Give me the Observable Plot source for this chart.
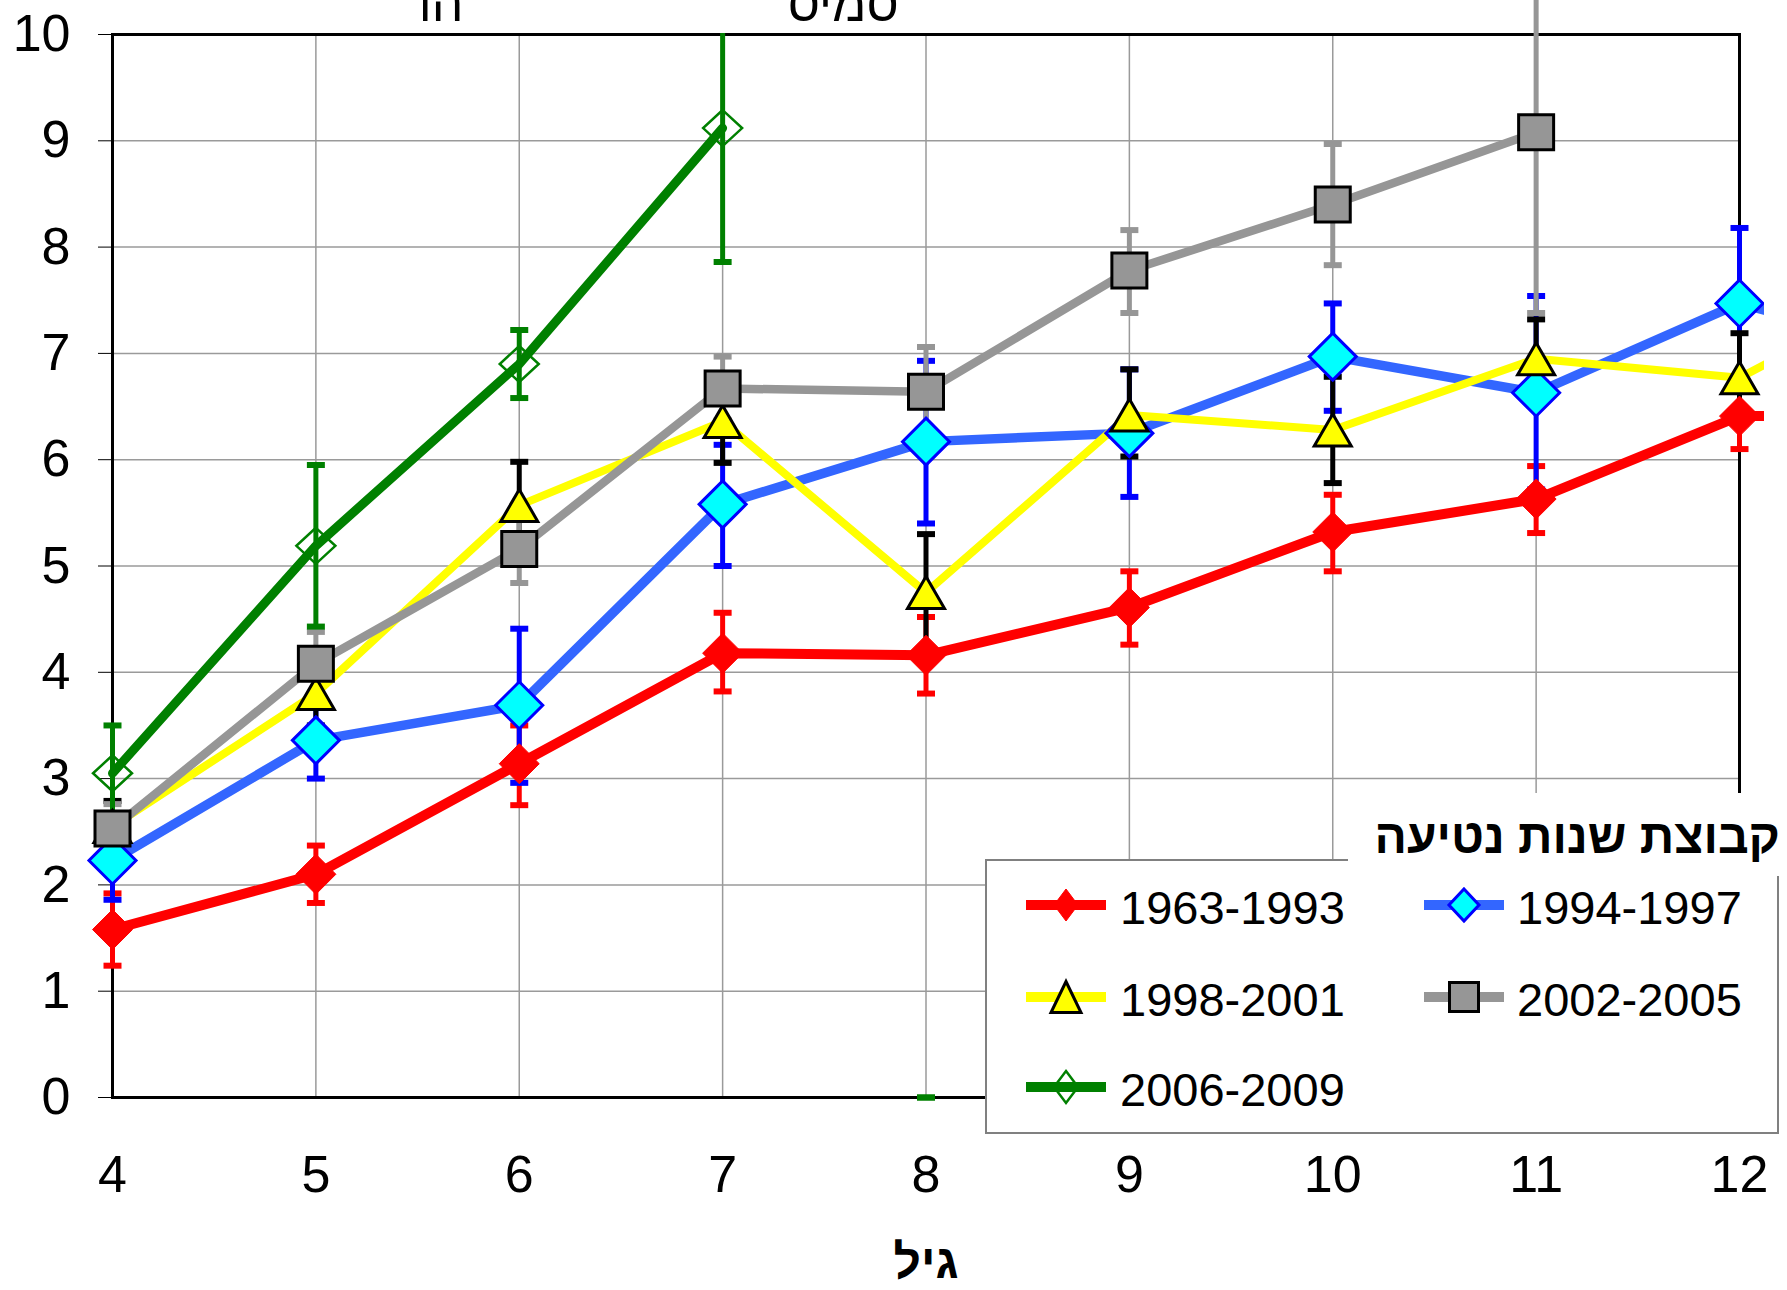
<!DOCTYPE html>
<html><head><meta charset="utf-8">
<script src="https://cdn.jsdelivr.net/npm/d3@7"></script>
<script src="https://cdn.jsdelivr.net/npm/@observablehq/plot@0.6"></script>
<style>
html,body{margin:0;padding:0;background:#fff;overflow:hidden;width:1787px;height:1290px;}
#page{position:relative;width:1787px;height:1290px;font-family:"Liberation Sans",Arial,sans-serif;color:#000;}
#chart{position:absolute;left:0;top:0;width:1787px;height:1290px;overflow:hidden;}
.tbox{position:absolute;background:#fff;overflow:hidden;}
.tbox span{position:absolute;white-space:nowrap;line-height:1;direction:rtl;}
#legend{position:absolute;left:985px;top:859px;width:794px;height:275px;box-sizing:border-box;border:2px solid #808080;background:#fff;}
#legend .sym{position:absolute;width:80px;height:40px;}
#legend .lab{position:absolute;font-size:47px;line-height:1;white-space:nowrap;}
</style></head><body>
<div id="page">
  <div id="chart"></div>
  <div id="legend"></div>
</div>
<script>
// ---------- data ----------
const ages = [4, 5, 6, 7, 8, 9, 10, 11, 12, 13];
const xTicks = [4, 5, 6, 7, 8, 9, 10, 11, 12];
const yTicks = [0, 1, 2, 3, 4, 5, 6, 7, 8, 9, 10];
const seriesNames = ["1963-1993", "1994-1997", "1998-2001", "2002-2005", "2006-2009"];

const mean1963 = [1.58, 2.10, 3.14, 4.18, 4.16, 4.61, 5.32, 5.63, 6.41, 6.42];
const low1963  = [1.24, 1.83, 2.75, 3.82, 3.80, 4.26, 4.95, 5.31, 6.10, null];
const high1963 = [1.92, 2.37, 3.50, 4.56, 4.52, 4.95, 5.67, 5.94, 6.72, null];

const mean1994 = [2.23, 3.36, 3.69, 5.58, 6.17, 6.25, 6.97, 6.63, 7.47, 6.96];
const low1994  = [1.86, 3.00, 2.96, 5.00, 5.40, 5.65, 6.46, 5.72, 6.76, null];
const high1994 = [2.60, 3.72, 4.41, 6.14, 6.93, 6.85, 7.47, 7.54, 8.18, null];

const mean1998 = [2.55, 3.80, 5.57, 6.36, 4.75, 6.42, 6.28, 6.95, 6.77, 7.78];
const low1998  = [2.30, 3.50, 5.16, 5.97, 4.20, 6.03, 5.78, 6.58, 6.34, null];
const high1998 = [2.79, 4.10, 5.98, 6.75, 5.30, 6.85, 6.78, 7.32, 7.19, null];

const mean2002 = [2.53, 4.08, 5.16, 6.67, 6.64, 7.78, 8.40, 9.08, null, null];
const low2002  = [2.30, 3.78, 4.84, 6.37, 6.22, 7.38, 7.83, 7.38, null, null];
const high2002 = [2.76, 4.38, 5.48, 6.97, 7.06, 8.16, 8.97, 10.78, null, null];

const mean2006 = [3.05, 5.19, 6.90, 9.12, null, null, null, null, null, null];
const low2006  = [2.60, 4.43, 6.58, 7.86, 0, null, null, null, null, null];
const high2006 = [3.50, 5.95, 7.22, 10.38, 0, null, null, null, null, null];

const xAxisTitle = "גיל";
const legendTitle = "קבוצת שנות נטיעה";
const topFragments = ["הו", "סמיס"];

// ---------- build table ----------
const means = [mean1963, mean1994, mean1998, mean2002, mean2006];
const lows = [low1963, low1994, low1998, low2002, low2006];
const highs = [high1963, high1994, high1998, high2002, high2006];
const rows = [];
seriesNames.forEach((name, i) => {
  ages.forEach((age, j) => {
    rows.push({series: name, idx: i, age, value: means[i][j], lo: lows[i][j], hi: highs[i][j]});
  });
});

// ---------- symbols ----------
const diamond = (w, h) => ({draw(c) { c.moveTo(0, -h / 2); c.lineTo(w / 2, 0); c.lineTo(0, h / 2); c.lineTo(-w / 2, 0); c.closePath(); }});
const triangle = (w, h) => ({draw(c) { c.moveTo(0, -h / 2); c.lineTo(w / 2, h / 2); c.lineTo(-w / 2, h / 2); c.closePath(); }});
const square = (s) => ({draw(c) { c.moveTo(-s / 2, -s / 2); c.lineTo(s / 2, -s / 2); c.lineTo(s / 2, s / 2); c.lineTo(-s / 2, s / 2); c.closePath(); }});
const rect = (w, h) => ({draw(c) { c.moveTo(-w / 2, -h / 2); c.lineTo(w / 2, -h / 2); c.lineTo(w / 2, h / 2); c.lineTo(-w / 2, h / 2); c.closePath(); }});
const capSym = rect(18, 6);

const looks = [
  {line: "#FF0000", lw: 10,  err: "#FF0000", sym: diamond(40, 40), fill: "#FF0000", stroke: "#FF0000", sw: 1,   lsym: diamond(24, 32)},
  {line: "#3366FF", lw: 9.5, err: "#0000FF", sym: diamond(47, 47), fill: "#00FFFF", stroke: "#0000FF", sw: 3,   lsym: diamond(30, 32)},
  {line: "#FFFF00", lw: 8,   err: "#000000", sym: triangle(37, 32), fill: "#FFFF00", stroke: "#000000", sw: 3, lsym: triangle(30, 31)},
  {line: "#969696", lw: 8.5, err: "#969696", sym: square(35),      fill: "#969696", stroke: "#000000", sw: 3,   lsym: square(29)},
  {line: "#008000", lw: 9,   err: "#008000", sym: diamond(39, 36), fill: "none",    stroke: "#008000", sw: 2.5, lsym: diamond(24, 32)}
];

const lineMarks = [], errMarks = [], dotMarks = [];
seriesNames.forEach((name, i) => {
  const L = looks[i];
  const sRows = rows.filter(d => d.idx === i);
  lineMarks.push(Plot.line(sRows, {x: "age", y: "value", stroke: L.line, strokeWidth: L.lw, strokeLinejoin: "round"}));
  const eRows = sRows.filter(d => d.lo != null && d.hi != null);
  errMarks.push(Plot.ruleX(eRows, {x: "age", y1: "lo", y2: "hi", stroke: L.err, strokeWidth: 5}));
  const capRows = eRows.flatMap(d => [{age: d.age, v: d.lo}, {age: d.age, v: d.hi}]);
  errMarks.push(Plot.dot(capRows, {x: "age", y: "v", symbol: capSym, fill: L.err, stroke: "none"}));
  dotMarks.push(Plot.dot(sRows.filter(d => d.value != null), {x: "age", y: "value", symbol: L.sym, fill: L.fill, stroke: L.stroke, strokeWidth: L.sw}));
});

const plot = Plot.plot({
  width: 1787, height: 1290,
  marginLeft: 112, marginRight: 48, marginTop: 34, marginBottom: 193,
  style: {fontFamily: "Liberation Sans, Arial, sans-serif", fontSize: "52px", background: "white", color: "black", overflow: "hidden"},
  x: {domain: [4, 12], ticks: xTicks, tickSize: 0, tickPadding: 58, label: null},
  y: {domain: [0, 10], ticks: yTicks, tickSize: 14, tickPadding: 28, label: null},
  marks: [
    Plot.ruleX(xTicks, {stroke: "#9a9a9a", strokeWidth: 1.5}),
    Plot.ruleY(yTicks, {stroke: "#9a9a9a", strokeWidth: 1.5}),
    Plot.frame({stroke: "black", strokeWidth: 3}),
    ...lineMarks,
    ...errMarks,
    ...dotMarks,
    Plot.text([xAxisTitle], {text: d => d, frameAnchor: "bottom", dy: 180, lineAnchor: "bottom", fontSize: 48, fontWeight: "bold"})
  ]
});
document.getElementById("chart").appendChild(plot);

const page = d3.select("#page");
// white strip: plot area ends just right of age 12 (lines are cut there)
page.append("div").attr("class", "tbox")
  .style("left", "1764px").style("top", "0px").style("width", "23px").style("height", "859px");

// ---------- top title fragments (partially cropped, as in the source) ----------
const fragBoxes = [{l: 379, w: 111, cx: 441}, {l: 698, w: 290, cx: 843}];
topFragments.forEach((t, i) => {
  const b = fragBoxes[i];
  const box = page.append("div").attr("class", "tbox")
    .style("left", b.l + "px").style("top", "0px").style("width", b.w + "px").style("height", "33px");
  box.append("span").text(t).style("font-size", "50px")
    .style("left", (b.cx - b.l) + "px").style("top", "-21px").style("transform", "translateX(-50%)");
});

// ---------- legend title ----------
const ltBox = page.append("div").attr("class", "tbox")
  .style("left", "1348px").style("top", "793px").style("width", "439px").style("height", "83px");
ltBox.append("span").text(legendTitle).style("font-size", "48px").style("font-weight", "bold")
  .style("right", "7px").style("top", "20px");

// ---------- legend entries ----------
const legend = d3.select("#legend");
const colSym = [39, 437], colText = [133, 530], rowC = [44, 136, 226];
seriesNames.forEach((name, i) => {
  const L = looks[i];
  const col = i % 2, row = Math.floor(i / 2);
  const svg = legend.append("svg").attr("class", "sym").attr("width", 80).attr("height", 40)
    .style("left", colSym[col] + "px").style("top", (rowC[row] - 20) + "px").style("overflow", "visible");
  svg.append("line").attr("x1", 0).attr("x2", 80).attr("y1", 20).attr("y2", 20)
    .attr("stroke", L.line).attr("stroke-width", 10);
  svg.append("path").attr("transform", "translate(40,20)")
    .attr("d", d3.symbol(L.lsym)())
    .attr("fill", L.fill === "none" ? "none" : L.fill).attr("stroke", L.stroke).attr("stroke-width", L.sw);
  legend.append("div").attr("class", "lab").text(name)
    .style("left", colText[col] + "px").style("top", (rowC[row] - 21) + "px");
});
</script>
</body></html>
